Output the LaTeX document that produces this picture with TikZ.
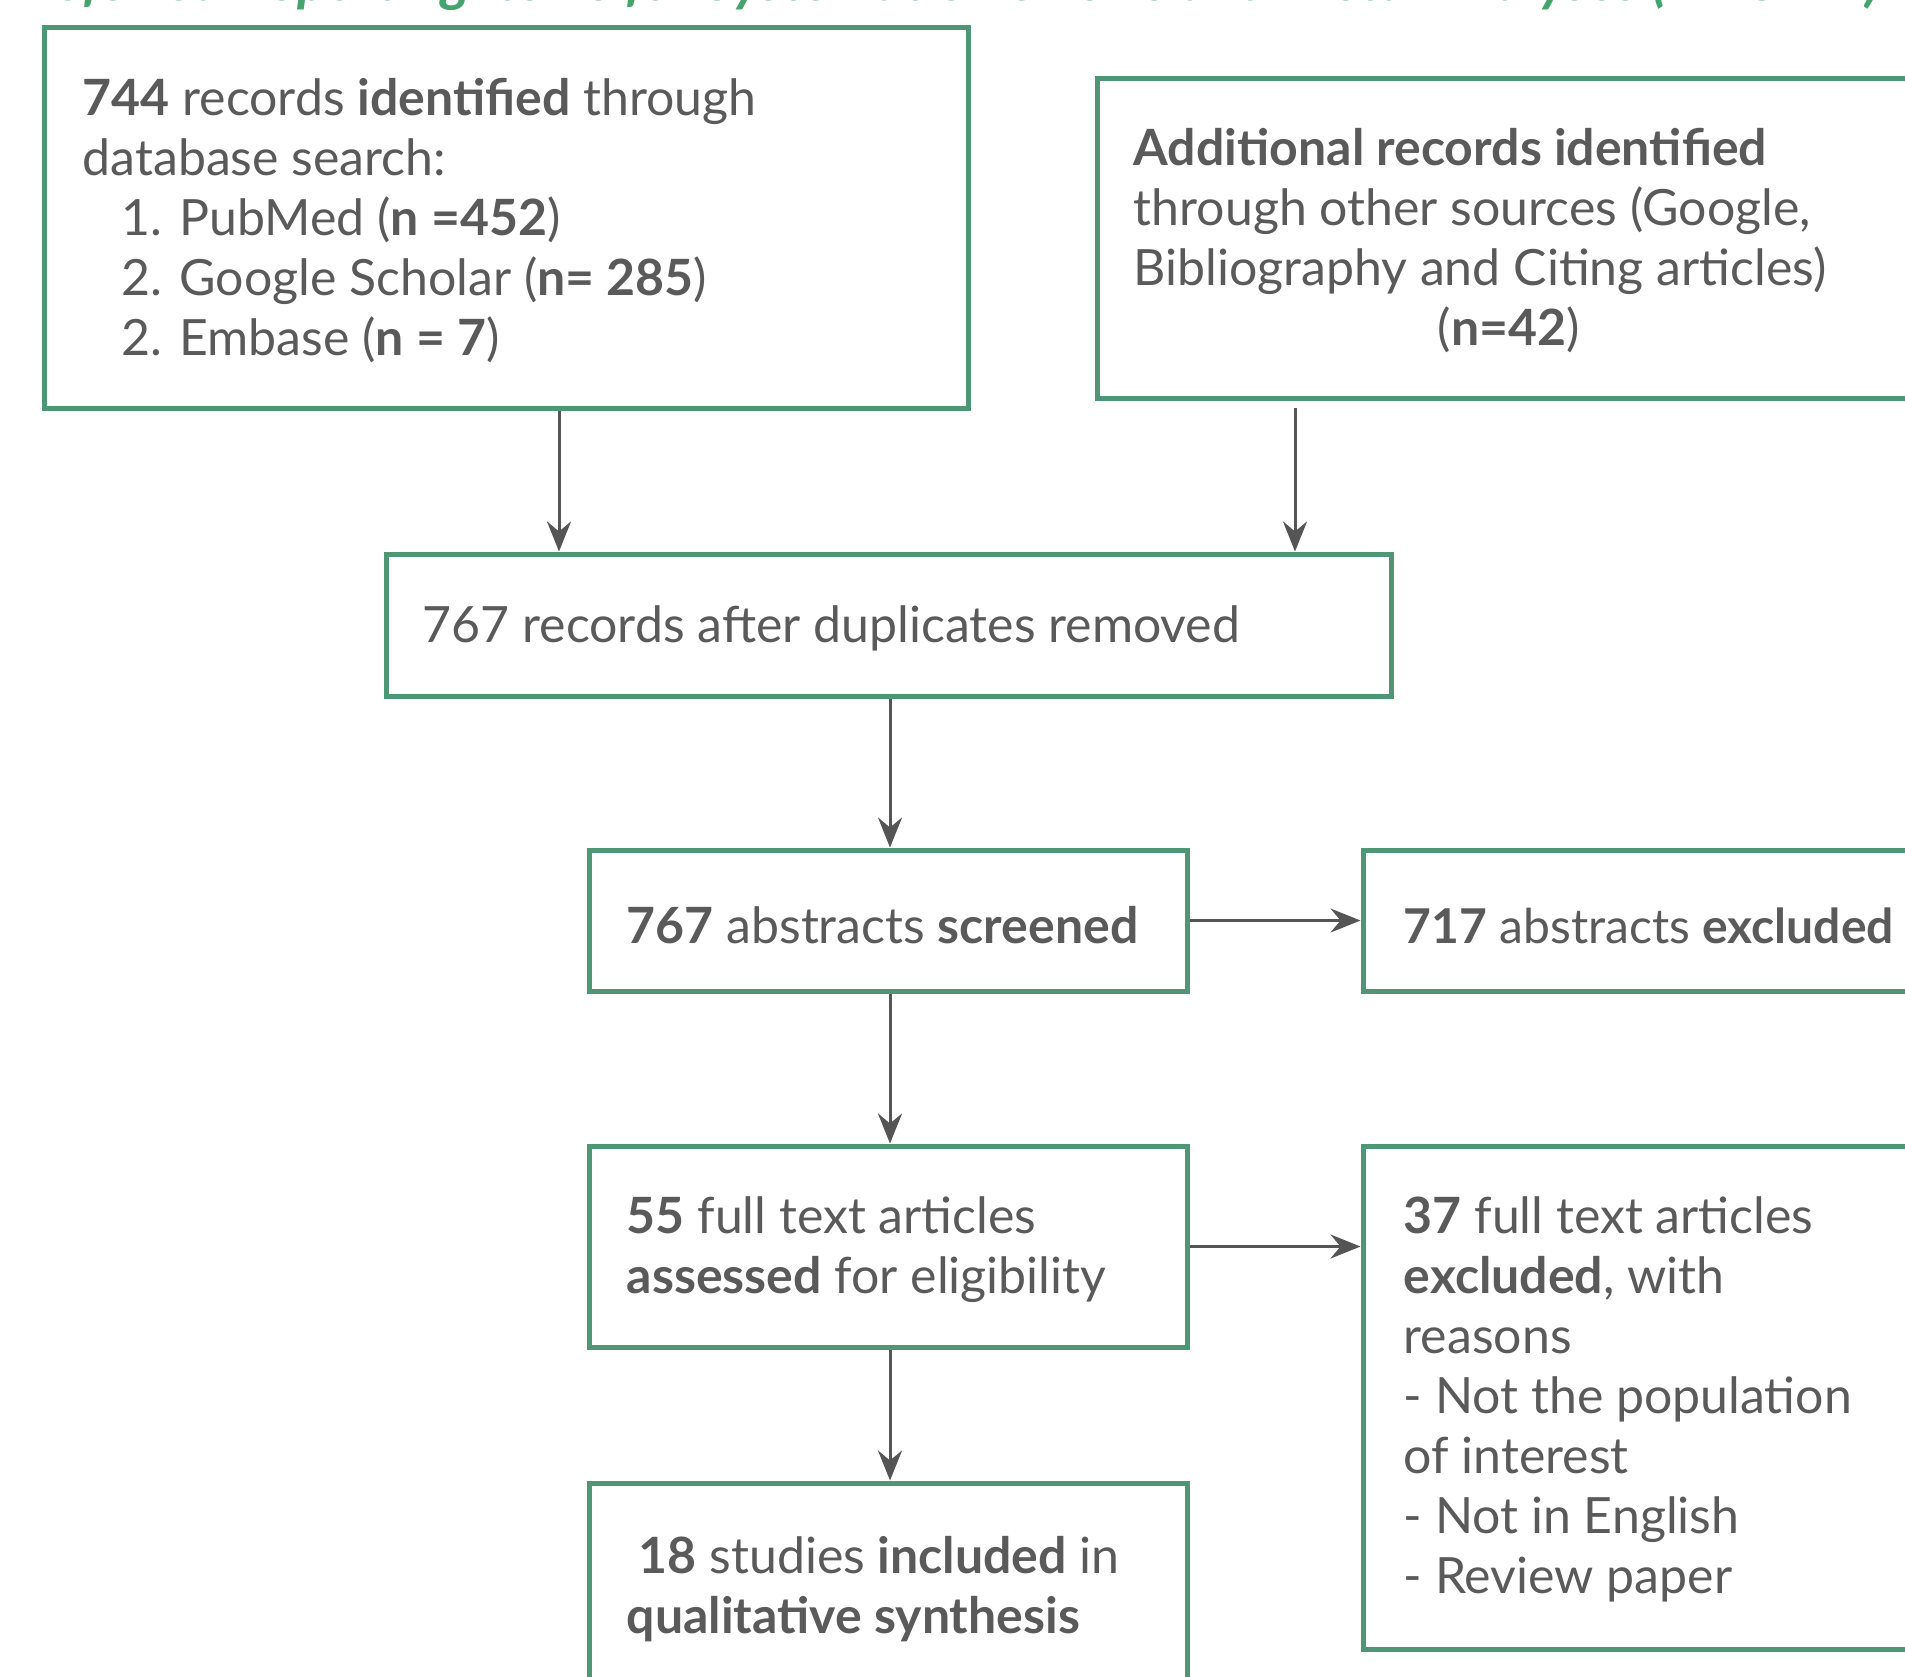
\documentclass[tikz,border=0pt]{standalone}
\usepackage{fontspec}
\setmainfont{Lato}
\usetikzlibrary{arrows.meta,calc}
\definecolor{boxgreen}{HTML}{4F9676}
\definecolor{txtgray}{HTML}{5A5A5A}
\definecolor{arrgray}{HTML}{555555}
\definecolor{titlegreen}{HTML}{45A36E}
\tikzset{
  box/.style={draw=boxgreen, line width=5pt, fill=white, inner sep=0pt},
  txt/.style={text=txtgray, align=left, inner sep=0pt, anchor=west,
    font=\fontsize{50}{60}\selectfont},
  arr/.style={draw=arrgray, line width=3pt,
    -{Stealth[length=30pt,width=24pt,inset=10pt]}},
  ttl/.style={text=titlegreen, inner sep=0pt, anchor=base west,
    font=\fontsize{56.5}{60}\selectfont\bfseries\itshape}
}
\begin{document}
\begin{tikzpicture}[x=1pt,y=-1pt]
\useasboundingbox (0,0) rectangle (1905,1676);
\clip (0,0) rectangle (1905,1676);
\fill[white] (0,0) rectangle (1905,1676);

\node[ttl] (title) at (3,0) {Preferred Reporting Items for Systematic Reviews and Meta-Analyses (PRISMA)};

% boxes
\node[box, minimum width=924pt, minimum height=381pt] (b1) at (506,217.5) {};
\node[box, minimum width=900pt, minimum height=320pt] (b2) at (1547,238) {};
\node[box, minimum width=1005pt, minimum height=142pt] (b3) at (888.5,625) {};
\node[box, minimum width=598pt, minimum height=141pt] (b4) at (888,920.5) {};
\node[box, minimum width=700pt, minimum height=141pt] (b5) at (1713,920.5) {};
\node[box, minimum width=598pt, minimum height=201pt] (b6) at (888,1246.5) {};
\node[box, minimum width=700pt, minimum height=503pt] (b7) at (1713,1397.5) {};
\node[box, minimum width=598pt, minimum height=212pt] (b8) at (888,1589) {};

% texts
\node[txt] (t1) at ($(b1.west)+(41,3)$) {\textbf{744} records \textbf{identified} through\\
database search:\\
\hspace*{39pt}1. PubMed (\textbf{n =452})\\
\hspace*{39pt}2. Google Scholar (\textbf{n= 285})\\
\hspace*{39pt}2. Embase (\textbf{n = 7})};
\node[txt] (t2) at ($(b2.west)+(39,3)$) {\textbf{Additional records identified}\\
through other sources (Google,\\
Bibliography and Citing articles)\\
\hspace*{304pt}(\textbf{n=42})};
\node[txt] (t3) at ($(b3.west)+(39,3)$) {767 records after duplicates removed};
\node[txt] (t4) at ($(b4.west)+(40,5)$) {\textbf{767} abstracts \textbf{screened}};
\node[txt, font=\fontsize{48}{60}\selectfont] (t5) at ($(b5.west)+(43,5)$) {\textbf{717} abstracts \textbf{excluded}};
\node[txt] (t6) at ($(b6.west)+(40,3)$) {\textbf{55} full text articles\\
\textbf{assessed} for eligibility};
\node[txt] (t7) at ($(b7.west)+(43,2)$) {\textbf{37} full text articles\\
\textbf{excluded}, with\\
reasons\\
- Not the population\\
of interest\\
- Not in English\\
- Review paper};
\node[txt] (t8) at ($(b8.west)+(40,0)$) {\hspace*{12pt}\textbf{18} studies \textbf{included} in\\
\textbf{qualitative synthesis}};

% connectors
\coordinate (c1) at (559,408);
\coordinate (c2) at (1295,408);
\coordinate (c3) at (890,700);
\draw[arr] (b1.south -| c1) -- (b3.north -| c1);
\draw[arr] (c2) -- (b3.north -| c2);
\draw[arr] (b3.south -| c3) -- (b4.north -| c3);
\draw[arr] (b4.east) -- (b5.west);
\draw[arr] (b4.south -| c3) -- (b6.north -| c3);
\draw[arr] (b6.east) -- (b7.west |- b6.east);
\draw[arr] (b6.south -| c3) -- (b8.north -| c3);
\end{tikzpicture}
\end{document}
